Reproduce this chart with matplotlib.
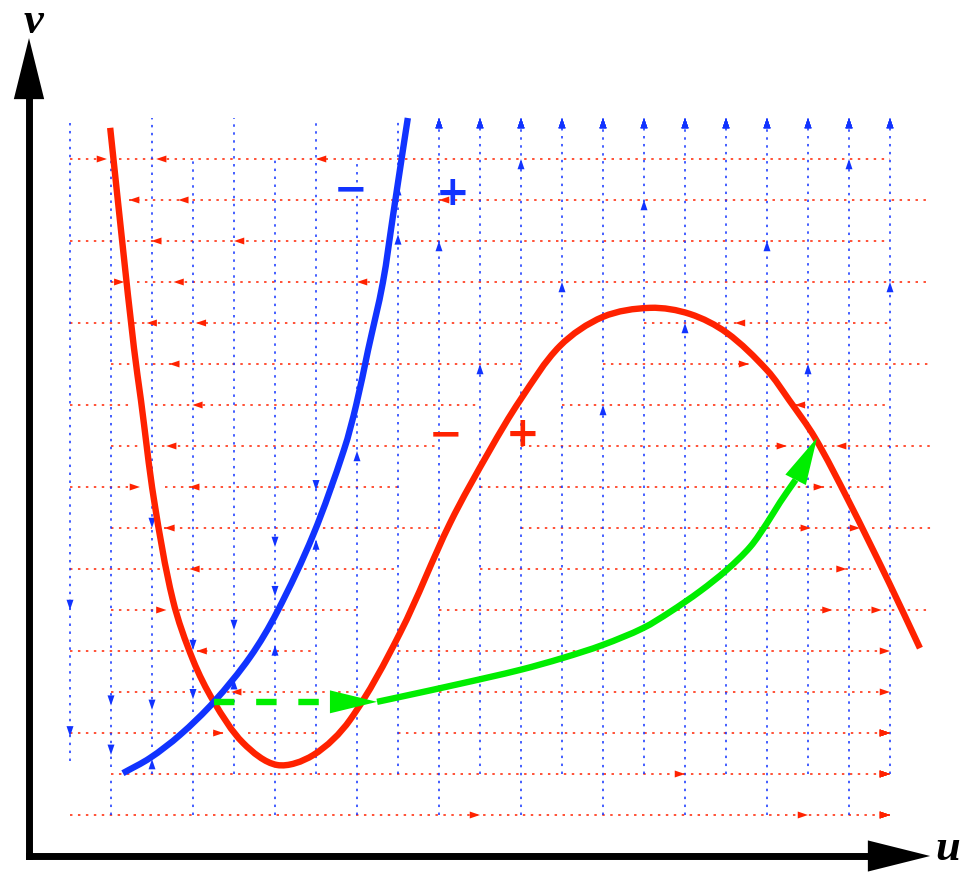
import numpy as np
import matplotlib

matplotlib.use("Agg")
import matplotlib.pyplot as plt
from matplotlib.patches import Polygon, PathPatch
from matplotlib.path import Path

RED = "#ff2200"
BLUE = "#1133ff"
GREEN = "#00ee00"

# u-nullcline (cubic shaped)
red_u = np.array([1.98, 2.27, 2.56, 2.73, 3.05, 3.51, 4.00, 4.51, 5.22, 6.05,
                  6.93, 7.83, 9.05, 10.27, 11.24, 11.98, 12.95, 14.00, 15.15, 16.12,
                  17.02, 18.00, 18.54, 19.17, 19.98, 20.98, 21.73])
red_v = np.array([17.76, 15.02, 12.39, 11.12, 8.68, 6.24, 4.78, 3.76, 2.76, 2.22,
                  2.46, 3.32, 5.44, 8.12, 9.90, 11.12, 12.44, 13.15, 13.37, 13.22,
                  12.76, 11.85, 11.12, 10.20, 8.68, 6.66, 5.07])

# v-nullcline
blue_u = np.array([2.29, 2.95, 3.68, 4.51, 5.39, 6.05, 6.93, 7.68, 7.98, 8.27,
                   8.63, 8.88, 9.12, 9.24])
blue_v = np.array([2.02, 2.39, 2.95, 3.76, 4.85, 5.95, 7.83, 9.90, 11.00, 12.34,
                   13.98, 15.63, 17.22, 18.00])

# fast jump off the left branch, then slow climb up to the right branch
jump_u = np.array([4.51, 8.49])
jump_v = np.array([3.76, 3.76])
traj_u = np.array([8.49, 9.05, 10.51, 11.98, 13.02, 14.00, 14.98, 15.63, 16.37,
                   17.02, 17.59, 18.00, 18.32, 18.71, 19.22])
traj_v = np.array([3.76, 3.88, 4.20, 4.54, 4.83, 5.15, 5.56, 5.95, 6.46,
                   6.98, 7.54, 8.12, 8.63, 9.20, 10.20])

# sign labels on either side of each nullcline
sign_text = ["\u2212", "+", "\u2212", "+"]
sign_u = [7.85, 10.34, 10.15, 12.05]
sign_v = [16.24, 16.15, 10.27, 10.27]
sign_color = [BLUE, BLUE, RED, RED]

# sample grid of the direction field
grid_u = np.arange(1, 23)
grid_v = np.arange(1, 19)

U_MIN, U_MAX, V_MIN, V_MAX = 0.45, 21.0, 0.5, 18.0
K_LEN = 0.85     # fraction of the way to the nullcline an arrow reaches
L_MAX = 10.0     # longest arrow
HEAD_L, HEAD_W = 0.25, 0.085


def crossings(xs, ys, level):
    d = ys - level
    out = []
    for i in range(len(xs) - 1):
        if d[i] == 0:
            out.append(xs[i])
        elif d[i] * d[i + 1] < 0:
            t = d[i] / (d[i] - d[i + 1])
            out.append(xs[i] + t * (xs[i + 1] - xs[i]))
    return np.array(out)


def merge(intervals):
    intervals = sorted(intervals)
    out = []
    for a, b in intervals:
        if out and a <= out[-1][1] + 0.05:
            out[-1][1] = max(out[-1][1], b)
        else:
            out.append([a, b])
    return out


def smooth_path(xs, ys):
    """Chord-length Catmull-Rom curve through the points, as cubic Beziers."""
    p = np.column_stack([xs, ys]).astype(float)
    t = np.r_[0, np.cumsum(np.hypot(*np.diff(p, axis=0).T))]
    tan = np.empty_like(p)
    tan[1:-1] = (p[2:] - p[:-2]) / (t[2:] - t[:-2])[:, None]
    tan[0] = (p[1] - p[0]) / (t[1] - t[0])
    tan[-1] = (p[-1] - p[-2]) / (t[-1] - t[-2])
    verts = [p[0]]
    codes = [Path.MOVETO]
    for i in range(len(p) - 1):
        h = (t[i + 1] - t[i]) / 3
        verts += [p[i] + tan[i] * h, p[i + 1] - tan[i + 1] * h, p[i + 1]]
        codes += [Path.CURVE4] * 3
    return Path(verts, codes)


def curve(ax, xs, ys, color, lw, z):
    patch = PathPatch(smooth_path(xs, ys), facecolor="none", edgecolor=color,
                      lw=lw, zorder=z)
    patch.set_capstyle("butt")
    ax.add_patch(patch)


def head(ax, tip, base, half_w, color, z):
    tip = np.asarray(tip, float)
    base = np.asarray(base, float)
    d = tip - base
    n = np.array([-d[1], d[0]]) / np.hypot(*d)
    pts = [tip, base + n * half_w, base - n * half_w]
    ax.add_patch(Polygon(pts, closed=True, facecolor=color, edgecolor="none",
                         zorder=z))


fig = plt.figure(figsize=(9.64, 8.72), dpi=100)
ax = fig.add_axes([0, 0, 1, 1])
ax.set_xlim(-29 / 41, 935 / 41)
ax.set_ylim(-16 / 41, 856 / 41)
ax.axis("off")

dot = (0, (1.6, 3.6))

# horizontal (du/dt) arrows; every arrow leaves a dotted trail, only some get a head
for j, v in enumerate(grid_v[:-1]):
    cross = crossings(red_u, red_v, v)
    spans = []
    for i, u in enumerate(grid_u):
        if (i + j) % 2:
            continue
        s = 1.0 if np.interp(u, red_u, red_v) > v else -1.0
        ahead = cross[(cross - u) * s > 0]
        gap = np.abs(ahead - u).min() if len(ahead) else np.inf
        raw = u + s * min(K_LEN * gap, L_MAX)
        end = np.clip(raw, U_MIN, U_MAX)
        if (end - u) * s < HEAD_L:
            continue
        spans.append((min(u, end), max(u, end)))
        if (i + 3 * j) % 8 == 0 or (end != raw and j < 3):
            head(ax, (end, v), (end - s * HEAD_L, v), HEAD_W, RED, 2)
    for a, b in merge(spans):
        ax.plot([a, b], [v, v], color=RED, lw=1.1, ls=dot, zorder=1)

# vertical (dv/dt) arrows
for i, u in enumerate(grid_u[:-1]):
    spans = []
    for j, v in enumerate(grid_v):
        if (i + j + 1) % 2:
            continue
        if u <= blue_u[-1]:
            vb = np.interp(u, blue_u, blue_v)
            s = 1.0 if vb > v else -1.0
            length = min(K_LEN * abs(vb - v), L_MAX)
        else:
            s = 1.0
            length = L_MAX
        raw = v + s * length
        end = np.clip(raw, V_MIN, V_MAX)
        if (end - v) * s < HEAD_L:
            continue
        spans.append((min(v, end), max(v, end)))
        if (3 * i + j + 1) % 8 == 0 or end != raw:
            head(ax, (u, end), (u, end - s * HEAD_L), HEAD_W, BLUE, 2)
    for a, b in merge(spans):
        ax.plot([u, u], [a, b], color=BLUE, lw=1.1, ls=dot, zorder=1)

# nullclines
curve(ax, red_u, red_v, RED, 4.6, 3)
curve(ax, blue_u, blue_v, BLUE, 4.6, 4)

# trajectory
GH_L, GH_W = 1.15, 0.28
tip = np.array([jump_u[-1], jump_v[-1]])
d = tip - np.array([jump_u[0], jump_v[0]])
base = tip - GH_L * d / np.hypot(*d)
ax.plot([jump_u[0], base[0]], [jump_v[0], base[1]], color=GREEN, lw=4.6,
        ls=(0, (3.2, 3.4)), dash_capstyle="butt", zorder=5)
head(ax, tip, base, GH_W, GREEN, 5)

tip = np.array([traj_u[-1], traj_v[-1]])
d = tip - np.array([traj_u[-2], traj_v[-2]])
base = tip - GH_L * d / np.hypot(*d)
curve(ax, np.r_[traj_u[:-2], base[0]], np.r_[traj_v[:-2], base[1]], GREEN, 4.6, 5)
head(ax, tip, base, GH_W, GREEN, 5)

for t, u, v, c in zip(sign_text, sign_u, sign_v, sign_color):
    ax.text(u, v, t, color=c, fontsize=29, fontweight="bold", ha="center",
            va="center", family="DejaVu Sans", zorder=6)

# axes with arrowheads
ax.plot([0, 20.46], [0, 0], color="black", lw=5, solid_capstyle="projecting", zorder=7)
ax.plot([0, 0], [0, 18.46], color="black", lw=5, solid_capstyle="projecting", zorder=7)
head(ax, (21.98, 0), (20.46, 0), 0.38, "black", 7)
head(ax, (0, 19.95), (0, 18.46), 0.37, "black", 7)
ax.text(0.12, 20.07, "v", fontsize=32, fontweight="bold", fontstyle="italic",
        family="Liberation Serif", ha="center", va="baseline")
ax.text(22.42, -0.10, "u", fontsize=32, fontweight="bold", fontstyle="italic",
        family="Liberation Serif", ha="center", va="baseline")

fig.savefig("out.png", dpi=100)
